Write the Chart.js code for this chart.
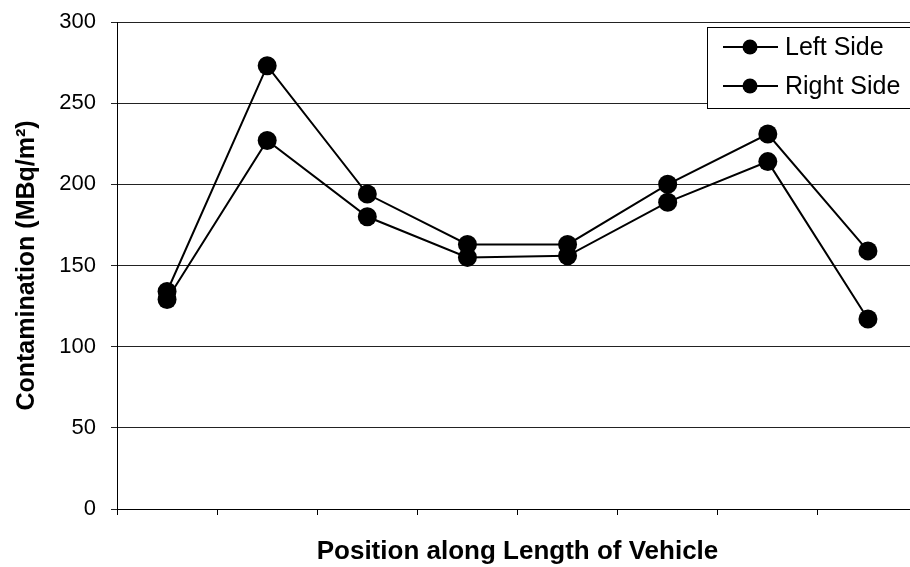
<!DOCTYPE html>
<html>
<head>
<meta charset="utf-8">
<script src="https://cdn.jsdelivr.net/npm/chart.js@4"></script>
<style>
  html, body { margin: 0; padding: 0; background: #fff; overflow: hidden; }
  #wrap { width: 930px; height: 567px; position: relative; }
</style>
</head>
<body>
<div id="wrap"><canvas id="chart"></canvas></div>
<script>
// Valores (MBq/m2), 8 posições ao longo do veículo
const positions = ['1', '2', '3', '4', '5', '6', '7', '8'];
const leftSide = [134, 273, 194, 163, 163, 200, 231, 159];
const rightSide = [129, 227, 180, 155, 156, 189, 214, 117];
const seriesNames = ['Left Side', 'Right Side'];
const yTicks = [0, 50, 100, 150, 200, 250, 300];

const FONT = "'Liberation Sans', Arial, sans-serif";

// legenda com caixa, desenhada dentro da área do gráfico
const boxLegend = {
    id: 'boxLegend',
    afterDraw(chart) {
        const ctx = chart.ctx;
        const area = chart.chartArea;
        const x = area.right - 211;
        const y = area.top + 5;
        ctx.save();
        ctx.fillStyle = '#fff';
        ctx.fillRect(x, y, 240, 81);
        ctx.strokeStyle = '#000';
        ctx.lineWidth = 1;
        ctx.strokeRect(x + 0.5, y + 0.5, 240, 81);
        chart.data.datasets.forEach((ds, i) => {
            const cy = y + 20 + i * 39;
            ctx.strokeStyle = '#000';
            ctx.lineWidth = 2;
            ctx.beginPath();
            ctx.moveTo(x + 16, cy);
            ctx.lineTo(x + 71, cy);
            ctx.stroke();
            ctx.fillStyle = '#000';
            ctx.beginPath();
            ctx.arc(x + 43, cy, 7.5, 0, Math.PI * 2);
            ctx.fill();
            ctx.font = '25px ' + FONT;
            ctx.textBaseline = 'middle';
            ctx.textAlign = 'left';
            ctx.fillText(ds.label, x + 78, cy + 1);
        });
        ctx.restore();
    }
};

const ctx = document.getElementById('chart').getContext('2d');
const myChart = new Chart(ctx, {
    type: 'line',
    data: {
        labels: positions,
        datasets: [leftSide, rightSide].map((vals, i) => ({
            label: seriesNames[i],
            data: vals,
            borderColor: '#000',
            backgroundColor: '#000',
            borderWidth: 2,
            pointRadius: 9.5,
            pointBorderWidth: 0,
            pointBackgroundColor: '#000',
            tension: 0,
            fill: false
        }))
    },
    plugins: [boxLegend],
    options: {
        responsive: true,
        maintainAspectRatio: false,
        animation: false,
        layout: { padding: { top: 22, right: 12, left: 0, bottom: 0 } },
        plugins: {
            legend: { display: false },
            tooltip: { enabled: false }
        },
        scales: {
            x: {
                offset: true,
                afterFit: (s) => { s.height = 58; },
                grid: { offset: true, drawOnChartArea: false, drawTicks: true, tickLength: 6, color: '#000' },
                border: { display: true, color: '#000', width: 1 },
                ticks: { display: false },
                title: {
                    display: true,
                    text: 'Position along Length of Vehicle',
                    color: '#000',
                    font: { family: FONT, size: 26, weight: 'bold' },
                    padding: { top: 0, bottom: 0 }
                }
            },
            y: {
                min: 0,
                max: 300,
                afterFit: (s) => { s.width = 117; s.paddingTop = 0; s.paddingBottom = 0; },
                afterBuildTicks: (s) => { s.ticks = yTicks.map(v => ({ value: v })); },
                grid: { color: '#222', lineWidth: 1, drawTicks: true, tickLength: 6 },
                border: { display: true, color: '#000', width: 1 },
                ticks: {
                    color: '#000',
                    padding: 15,
                    font: { family: FONT, size: 22 }
                },
                title: {
                    display: true,
                    text: 'Contamination (MBq/m²)',
                    color: '#000',
                    font: { family: FONT, size: 25, weight: 'bold' },
                    padding: { top: 12, bottom: 0 }
                }
            }
        }
    }
});
</script>
</body>
</html>
